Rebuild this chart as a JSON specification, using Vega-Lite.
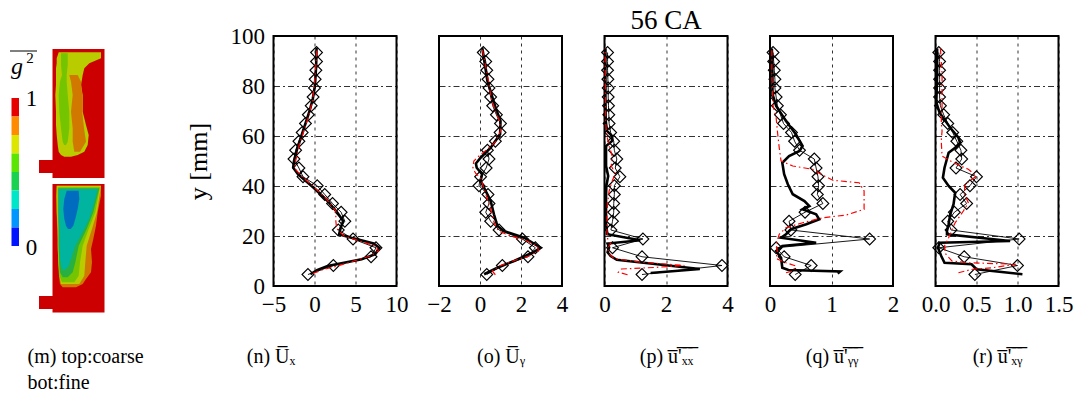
{
"$schema": "https://vega.github.io/schema/vega-lite/v6.json",
"padding": {"left": 0, "top": 6, "right": 0, "bottom": 0},
"background": "white",
"datasets": {
"prof": [
{"panel":"n","s":"exp","y":4.6,"v":-0.8},{"panel":"n","s":"exp","y":8.2,"v":2.3},{"panel":"n","s":"exp","y":11.7,"v":6.9},{"panel":"n","s":"exp","y":15.3,"v":7.5},{"panel":"n","s":"exp","y":18.8,"v":4.7},{"panel":"n","s":"exp","y":22.4,"v":2.9},{"panel":"n","s":"exp","y":25.9,"v":3.7},{"panel":"n","s":"exp","y":29.5,"v":3.25},{"panel":"n","s":"exp","y":33.0,"v":2.2},{"panel":"n","s":"exp","y":36.6,"v":1.25},{"panel":"n","s":"exp","y":40.1,"v":0.33},{"panel":"n","s":"exp","y":43.7,"v":-1.4},{"panel":"n","s":"exp","y":47.2,"v":-1.9},{"panel":"n","s":"exp","y":50.8,"v":-2.5},{"panel":"n","s":"exp","y":54.3,"v":-2.3},{"panel":"n","s":"exp","y":57.9,"v":-1.9},{"panel":"n","s":"exp","y":61.4,"v":-1.5},{"panel":"n","s":"exp","y":65.0,"v":-1.1},{"panel":"n","s":"exp","y":68.5,"v":-0.75},{"panel":"n","s":"exp","y":72.1,"v":-0.4},{"panel":"n","s":"exp","y":75.6,"v":-0.17},{"panel":"n","s":"exp","y":79.2,"v":0},{"panel":"n","s":"exp","y":82.7,"v":0.08},{"panel":"n","s":"exp","y":86.3,"v":0.17},{"panel":"n","s":"exp","y":89.8,"v":0.25},{"panel":"n","s":"exp","y":93.4,"v":0.25},
{"panel":"n","s":"fine","y":4.7,"v":-0.5},{"panel":"n","s":"fine","y":6.3,"v":0.3},{"panel":"n","s":"fine","y":8,"v":1.6},{"panel":"n","s":"fine","y":10.7,"v":5.75},{"panel":"n","s":"fine","y":12.7,"v":7.4},{"panel":"n","s":"fine","y":15.3,"v":7.9},{"panel":"n","s":"fine","y":17,"v":7.2},{"panel":"n","s":"fine","y":19.3,"v":4.5},{"panel":"n","s":"fine","y":20.7,"v":3.0},{"panel":"n","s":"fine","y":23.3,"v":3.2},{"panel":"n","s":"fine","y":26,"v":3.5},{"panel":"n","s":"fine","y":29.3,"v":2.8},{"panel":"n","s":"fine","y":34,"v":1.6},{"panel":"n","s":"fine","y":39.3,"v":-0.1},{"panel":"n","s":"fine","y":44.7,"v":-2.0},{"panel":"n","s":"fine","y":47.3,"v":-2.6},{"panel":"n","s":"fine","y":50,"v":-2.5},{"panel":"n","s":"fine","y":55,"v":-2.1},{"panel":"n","s":"fine","y":60,"v":-1.6},{"panel":"n","s":"fine","y":65,"v":-1.1},{"panel":"n","s":"fine","y":70,"v":-0.6},{"panel":"n","s":"fine","y":75,"v":-0.2},{"panel":"n","s":"fine","y":80,"v":0.05},{"panel":"n","s":"fine","y":88,"v":0.2},{"panel":"n","s":"fine","y":95.3,"v":0.25},
{"panel":"n","s":"coarse","y":5,"v":-0.2},{"panel":"n","s":"coarse","y":6.5,"v":1.0},{"panel":"n","s":"coarse","y":8,"v":2.8},{"panel":"n","s":"coarse","y":10,"v":4.8},{"panel":"n","s":"coarse","y":12,"v":6.8},{"panel":"n","s":"coarse","y":14,"v":7.8},{"panel":"n","s":"coarse","y":16,"v":7.5},{"panel":"n","s":"coarse","y":18,"v":5.5},{"panel":"n","s":"coarse","y":20,"v":3.6},{"panel":"n","s":"coarse","y":23,"v":2.7},{"panel":"n","s":"coarse","y":26,"v":2.6},{"panel":"n","s":"coarse","y":30,"v":2.6},{"panel":"n","s":"coarse","y":35,"v":1.4},{"panel":"n","s":"coarse","y":40,"v":-0.2},{"panel":"n","s":"coarse","y":44,"v":-1.6},{"panel":"n","s":"coarse","y":47,"v":-2.4},{"panel":"n","s":"coarse","y":50,"v":-2.3},{"panel":"n","s":"coarse","y":56,"v":-1.9},{"panel":"n","s":"coarse","y":62,"v":-1.3},{"panel":"n","s":"coarse","y":68,"v":-0.7},{"panel":"n","s":"coarse","y":75,"v":-0.2},{"panel":"n","s":"coarse","y":85,"v":0.1},{"panel":"n","s":"coarse","y":95,"v":0.3},
{"panel":"o","s":"exp","y":4.6,"v":0.33},{"panel":"o","s":"exp","y":8.2,"v":1.09},{"panel":"o","s":"exp","y":11.7,"v":2.34},{"panel":"o","s":"exp","y":15.3,"v":2.7},{"panel":"o","s":"exp","y":18.8,"v":2.07},{"panel":"o","s":"exp","y":22.4,"v":0.93},{"panel":"o","s":"exp","y":25.9,"v":0.52},{"panel":"o","s":"exp","y":29.5,"v":0.28},{"panel":"o","s":"exp","y":33.0,"v":0.44},{"panel":"o","s":"exp","y":36.6,"v":0.39},{"panel":"o","s":"exp","y":40.1,"v":-0.05},{"panel":"o","s":"exp","y":43.7,"v":0.03},{"panel":"o","s":"exp","y":47.2,"v":0.3},{"panel":"o","s":"exp","y":50.8,"v":0.44},{"panel":"o","s":"exp","y":54.3,"v":0.36},{"panel":"o","s":"exp","y":57.9,"v":0.75},{"panel":"o","s":"exp","y":61.4,"v":0.98},{"panel":"o","s":"exp","y":65.0,"v":1.0},{"panel":"o","s":"exp","y":68.5,"v":0.8},{"panel":"o","s":"exp","y":72.1,"v":0.62},{"panel":"o","s":"exp","y":75.6,"v":0.52},{"panel":"o","s":"exp","y":79.2,"v":0.44},{"panel":"o","s":"exp","y":82.7,"v":0.39},{"panel":"o","s":"exp","y":86.3,"v":0.33},{"panel":"o","s":"exp","y":89.8,"v":0.28},{"panel":"o","s":"exp","y":93.4,"v":0.16},
{"panel":"o","s":"fine","y":4.7,"v":0.2},{"panel":"o","s":"fine","y":7.3,"v":0.85},{"panel":"o","s":"fine","y":10,"v":1.66},{"panel":"o","s":"fine","y":13.3,"v":2.55},{"panel":"o","s":"fine","y":15.3,"v":2.96},{"panel":"o","s":"fine","y":19.3,"v":2.15},{"panel":"o","s":"fine","y":22,"v":1.17},{"panel":"o","s":"fine","y":24,"v":0.85},{"panel":"o","s":"fine","y":28.7,"v":0.68},{"panel":"o","s":"fine","y":34,"v":0.52},{"panel":"o","s":"fine","y":39.3,"v":0.2},{"panel":"o","s":"fine","y":42,"v":0.03},{"panel":"o","s":"fine","y":44.7,"v":0.1},{"panel":"o","s":"fine","y":47.3,"v":-0.16},{"panel":"o","s":"fine","y":49,"v":-0.2},{"panel":"o","s":"fine","y":51.3,"v":0.03},{"panel":"o","s":"fine","y":55.3,"v":0.52},{"panel":"o","s":"fine","y":60.7,"v":0.98},{"panel":"o","s":"fine","y":66,"v":1.0},{"panel":"o","s":"fine","y":71.3,"v":0.76},{"panel":"o","s":"fine","y":82,"v":0.36},{"panel":"o","s":"fine","y":95.3,"v":0.11},
{"panel":"o","s":"coarse","y":4.5,"v":0.75},{"panel":"o","s":"coarse","y":6,"v":0.6},{"panel":"o","s":"coarse","y":8,"v":0.95},{"panel":"o","s":"coarse","y":10,"v":1.6},{"panel":"o","s":"coarse","y":12,"v":2.4},{"panel":"o","s":"coarse","y":14,"v":2.85},{"panel":"o","s":"coarse","y":16,"v":2.8},{"panel":"o","s":"coarse","y":18,"v":2.3},{"panel":"o","s":"coarse","y":20,"v":1.5},{"panel":"o","s":"coarse","y":22,"v":0.9},{"panel":"o","s":"coarse","y":25,"v":0.7},{"panel":"o","s":"coarse","y":30,"v":0.55},{"panel":"o","s":"coarse","y":35,"v":0.35},{"panel":"o","s":"coarse","y":40,"v":0.15},{"panel":"o","s":"coarse","y":43,"v":0.05},{"panel":"o","s":"coarse","y":45,"v":-0.2},{"panel":"o","s":"coarse","y":47,"v":-0.35},{"panel":"o","s":"coarse","y":50,"v":-0.3},{"panel":"o","s":"coarse","y":52,"v":-0.05},{"panel":"o","s":"coarse","y":55,"v":0.4},{"panel":"o","s":"coarse","y":58,"v":0.8},{"panel":"o","s":"coarse","y":62,"v":1.0},{"panel":"o","s":"coarse","y":66,"v":0.95},{"panel":"o","s":"coarse","y":70,"v":0.75},{"panel":"o","s":"coarse","y":75,"v":0.55},{"panel":"o","s":"coarse","y":85,"v":0.35},{"panel":"o","s":"coarse","y":95,"v":0.1},
{"panel":"p","s":"exp","y":4.6,"v":1.22},{"panel":"p","s":"exp","y":8.2,"v":3.82},{"panel":"p","s":"exp","y":11.7,"v":1.22},{"panel":"p","s":"exp","y":15.3,"v":0.26},{"panel":"p","s":"exp","y":18.8,"v":1.25},{"panel":"p","s":"exp","y":22.4,"v":0.21},{"panel":"p","s":"exp","y":25.9,"v":0.26},{"panel":"p","s":"exp","y":29.5,"v":0.3},{"panel":"p","s":"exp","y":33.0,"v":0.3},{"panel":"p","s":"exp","y":36.6,"v":0.32},{"panel":"p","s":"exp","y":40.1,"v":0.32},{"panel":"p","s":"exp","y":43.7,"v":0.5},{"panel":"p","s":"exp","y":47.2,"v":0.35},{"panel":"p","s":"exp","y":50.8,"v":0.4},{"panel":"p","s":"exp","y":54.3,"v":0.32},{"panel":"p","s":"exp","y":57.9,"v":0.3},{"panel":"p","s":"exp","y":61.4,"v":0.2},{"panel":"p","s":"exp","y":65.0,"v":0.15},{"panel":"p","s":"exp","y":68.5,"v":0.14},{"panel":"p","s":"exp","y":72.1,"v":0.13},{"panel":"p","s":"exp","y":75.6,"v":0.12},{"panel":"p","s":"exp","y":79.2,"v":0.12},{"panel":"p","s":"exp","y":82.7,"v":0.11},{"panel":"p","s":"exp","y":86.3,"v":0.1},{"panel":"p","s":"exp","y":89.8,"v":0.1},{"panel":"p","s":"exp","y":93.4,"v":0.1},
{"panel":"p","s":"fine","y":5.2,"v":1.5},{"panel":"p","s":"fine","y":6.8,"v":3.1},{"panel":"p","s":"fine","y":10.5,"v":0.4},{"panel":"p","s":"fine","y":12,"v":0.2},{"panel":"p","s":"fine","y":13.5,"v":0.1},{"panel":"p","s":"fine","y":15.5,"v":0.15},{"panel":"p","s":"fine","y":17,"v":0.1},{"panel":"p","s":"fine","y":18.3,"v":1.16},{"panel":"p","s":"fine","y":20.7,"v":0.09},{"panel":"p","s":"fine","y":25,"v":0.05},{"panel":"p","s":"fine","y":30,"v":0.05},{"panel":"p","s":"fine","y":36,"v":0.05},{"panel":"p","s":"fine","y":40,"v":0.06},{"panel":"p","s":"fine","y":44,"v":0.12},{"panel":"p","s":"fine","y":48,"v":0.05},{"panel":"p","s":"fine","y":52,"v":0.05},{"panel":"p","s":"fine","y":56,"v":0.05},{"panel":"p","s":"fine","y":58,"v":0.25},{"panel":"p","s":"fine","y":60,"v":0.25},{"panel":"p","s":"fine","y":62,"v":0.08},{"panel":"p","s":"fine","y":66,"v":0.04},{"panel":"p","s":"fine","y":75,"v":0.03},{"panel":"p","s":"fine","y":85,"v":0.03},{"panel":"p","s":"fine","y":95,"v":0.03},
{"panel":"p","s":"coarse","y":4.5,"v":0.75},{"panel":"p","s":"coarse","y":5.5,"v":0.45},{"panel":"p","s":"coarse","y":6.8,"v":0.55},{"panel":"p","s":"coarse","y":7.4,"v":1.6},{"panel":"p","s":"coarse","y":8.2,"v":2.6},{"panel":"p","s":"coarse","y":9.5,"v":1.2},{"panel":"p","s":"coarse","y":11,"v":0.3},{"panel":"p","s":"coarse","y":13,"v":0.15},{"panel":"p","s":"coarse","y":15,"v":0.1},{"panel":"p","s":"coarse","y":17,"v":0.2},{"panel":"p","s":"coarse","y":19,"v":0.1},{"panel":"p","s":"coarse","y":22,"v":0.08},{"panel":"p","s":"coarse","y":27,"v":0.08},{"panel":"p","s":"coarse","y":33,"v":0.1},{"panel":"p","s":"coarse","y":38,"v":0.15},{"panel":"p","s":"coarse","y":42,"v":0.25},{"panel":"p","s":"coarse","y":45,"v":0.35},{"panel":"p","s":"coarse","y":48,"v":0.22},{"panel":"p","s":"coarse","y":52,"v":0.25},{"panel":"p","s":"coarse","y":56,"v":0.15},{"panel":"p","s":"coarse","y":60,"v":0.08},{"panel":"p","s":"coarse","y":65,"v":0.04},{"panel":"p","s":"coarse","y":80,"v":0.03},{"panel":"p","s":"coarse","y":95,"v":0.02},
{"panel":"q","s":"exp","y":4.6,"v":0.41},{"panel":"q","s":"exp","y":8.2,"v":0.67},{"panel":"q","s":"exp","y":11.7,"v":0.23},{"panel":"q","s":"exp","y":15.3,"v":0.1},{"panel":"q","s":"exp","y":18.8,"v":1.62},{"panel":"q","s":"exp","y":22.4,"v":0.34},{"panel":"q","s":"exp","y":25.9,"v":0.31},{"panel":"q","s":"exp","y":29.5,"v":0.57},{"panel":"q","s":"exp","y":33.0,"v":0.86},{"panel":"q","s":"exp","y":36.6,"v":0.77},{"panel":"q","s":"exp","y":40.1,"v":0.79},{"panel":"q","s":"exp","y":43.7,"v":0.78},{"panel":"q","s":"exp","y":47.2,"v":0.75},{"panel":"q","s":"exp","y":50.8,"v":0.72},{"panel":"q","s":"exp","y":54.3,"v":0.48},{"panel":"q","s":"exp","y":57.9,"v":0.4},{"panel":"q","s":"exp","y":61.4,"v":0.35},{"panel":"q","s":"exp","y":65.0,"v":0.22},{"panel":"q","s":"exp","y":68.5,"v":0.17},{"panel":"q","s":"exp","y":72.1,"v":0.12},{"panel":"q","s":"exp","y":75.6,"v":0.1},{"panel":"q","s":"exp","y":79.2,"v":0.08},{"panel":"q","s":"exp","y":82.7,"v":0.08},{"panel":"q","s":"exp","y":86.3,"v":0.07},{"panel":"q","s":"exp","y":89.8,"v":0.06},{"panel":"q","s":"exp","y":93.4,"v":0.05},
{"panel":"q","s":"fine","y":5.0,"v":1.1},{"panel":"q","s":"fine","y":5.8,"v":1.14},{"panel":"q","s":"fine","y":6.4,"v":0.3},{"panel":"q","s":"fine","y":7.3,"v":0.2},{"panel":"q","s":"fine","y":11.3,"v":0.18},{"panel":"q","s":"fine","y":14,"v":0.1},{"panel":"q","s":"fine","y":16,"v":0.2},{"panel":"q","s":"fine","y":17.3,"v":0.75},{"panel":"q","s":"fine","y":19.3,"v":0.18},{"panel":"q","s":"fine","y":20.7,"v":0.26},{"panel":"q","s":"fine","y":22.7,"v":0.34},{"panel":"q","s":"fine","y":24.7,"v":0.59},{"panel":"q","s":"fine","y":26.7,"v":0.8},{"panel":"q","s":"fine","y":28.7,"v":0.75},{"panel":"q","s":"fine","y":30.7,"v":0.53},{"panel":"q","s":"fine","y":32,"v":0.64},{"panel":"q","s":"fine","y":34,"v":0.56},{"panel":"q","s":"fine","y":36.7,"v":0.37},{"panel":"q","s":"fine","y":40.7,"v":0.29},{"panel":"q","s":"fine","y":44.7,"v":0.23},{"panel":"q","s":"fine","y":49.3,"v":0.2},{"panel":"q","s":"fine","y":52,"v":0.31},{"panel":"q","s":"fine","y":54,"v":0.48},{"panel":"q","s":"fine","y":56,"v":0.53},{"panel":"q","s":"fine","y":60.7,"v":0.42},{"panel":"q","s":"fine","y":66,"v":0.26},{"panel":"q","s":"fine","y":72,"v":0.1},{"panel":"q","s":"fine","y":76.7,"v":0.04},{"panel":"q","s":"fine","y":85,"v":0.04},{"panel":"q","s":"fine","y":95,"v":0.03},
{"panel":"q","s":"coarse","y":5.3,"v":0.26},{"panel":"q","s":"coarse","y":6,"v":0.37},{"panel":"q","s":"coarse","y":8,"v":0.42},{"panel":"q","s":"coarse","y":9.3,"v":0.26},{"panel":"q","s":"coarse","y":11,"v":0.1},{"panel":"q","s":"coarse","y":14,"v":0.12},{"panel":"q","s":"coarse","y":16.7,"v":0.1},{"panel":"q","s":"coarse","y":20.7,"v":0.15},{"panel":"q","s":"coarse","y":23.3,"v":0.26},{"panel":"q","s":"coarse","y":25.3,"v":0.53},{"panel":"q","s":"coarse","y":27.3,"v":0.86},{"panel":"q","s":"coarse","y":28.4,"v":1.24},{"panel":"q","s":"coarse","y":30.7,"v":1.53},{"panel":"q","s":"coarse","y":38,"v":1.53},{"panel":"q","s":"coarse","y":41.3,"v":1.45},{"panel":"q","s":"coarse","y":42.3,"v":1.02},{"panel":"q","s":"coarse","y":44.7,"v":0.83},{"panel":"q","s":"coarse","y":46.7,"v":0.69},{"panel":"q","s":"coarse","y":48,"v":0.37},{"panel":"q","s":"coarse","y":50,"v":0.18},{"panel":"q","s":"coarse","y":55.3,"v":0.15},{"panel":"q","s":"coarse","y":62,"v":0.12},{"panel":"q","s":"coarse","y":67.3,"v":0.1},{"panel":"q","s":"coarse","y":72,"v":0.05},{"panel":"q","s":"coarse","y":85,"v":0.03},{"panel":"q","s":"coarse","y":95,"v":0.03},
{"panel":"r","s":"exp","y":4.6,"v":0.48},{"panel":"r","s":"exp","y":8.2,"v":1.0},{"panel":"r","s":"exp","y":11.7,"v":0.35},{"panel":"r","s":"exp","y":15.3,"v":0.04},{"panel":"r","s":"exp","y":18.8,"v":1.02},{"panel":"r","s":"exp","y":22.4,"v":0.19},{"panel":"r","s":"exp","y":25.9,"v":0.15},{"panel":"r","s":"exp","y":29.5,"v":0.23},{"panel":"r","s":"exp","y":33.0,"v":0.38},{"panel":"r","s":"exp","y":36.6,"v":0.3},{"panel":"r","s":"exp","y":40.1,"v":0.42},{"panel":"r","s":"exp","y":43.7,"v":0.5},{"panel":"r","s":"exp","y":47.2,"v":0.25},{"panel":"r","s":"exp","y":50.8,"v":0.32},{"panel":"r","s":"exp","y":54.3,"v":0.31},{"panel":"r","s":"exp","y":57.9,"v":0.26},{"panel":"r","s":"exp","y":61.4,"v":0.21},{"panel":"r","s":"exp","y":65.0,"v":0.15},{"panel":"r","s":"exp","y":68.5,"v":0.1},{"panel":"r","s":"exp","y":72.1,"v":0.06},{"panel":"r","s":"exp","y":75.6,"v":0.05},{"panel":"r","s":"exp","y":79.2,"v":0.05},{"panel":"r","s":"exp","y":82.7,"v":0.05},{"panel":"r","s":"exp","y":86.3,"v":0.05},{"panel":"r","s":"exp","y":89.8,"v":0.05},{"panel":"r","s":"exp","y":93.4,"v":0.04},
{"panel":"r","s":"fine","y":4.7,"v":1.06},{"panel":"r","s":"fine","y":6.7,"v":0.5},{"panel":"r","s":"fine","y":8.7,"v":0.44},{"panel":"r","s":"fine","y":9.3,"v":0.11},{"panel":"r","s":"fine","y":12,"v":0.07},{"panel":"r","s":"fine","y":15.3,"v":0.03},{"panel":"r","s":"fine","y":17.3,"v":0.05},{"panel":"r","s":"fine","y":18,"v":0.91},{"panel":"r","s":"fine","y":20.7,"v":0.14},{"panel":"r","s":"fine","y":22,"v":0.14},{"panel":"r","s":"fine","y":24.7,"v":0.16},{"panel":"r","s":"fine","y":28.7,"v":0.18},{"panel":"r","s":"fine","y":32.7,"v":0.22},{"panel":"r","s":"fine","y":37.3,"v":0.24},{"panel":"r","s":"fine","y":40,"v":0.16},{"panel":"r","s":"fine","y":43.3,"v":0.09},{"panel":"r","s":"fine","y":47.3,"v":0.11},{"panel":"r","s":"fine","y":53.3,"v":0.16},{"panel":"r","s":"fine","y":55.3,"v":0.24},{"panel":"r","s":"fine","y":57.3,"v":0.3},{"panel":"r","s":"fine","y":59.3,"v":0.28},{"panel":"r","s":"fine","y":63.3,"v":0.18},{"panel":"r","s":"fine","y":69.3,"v":0.05},{"panel":"r","s":"fine","y":73.3,"v":0.01},{"panel":"r","s":"fine","y":85,"v":0.02},{"panel":"r","s":"fine","y":95,"v":0.02},
{"panel":"r","s":"coarse","y":5.3,"v":0.28},{"panel":"r","s":"coarse","y":6.7,"v":0.45},{"panel":"r","s":"coarse","y":7.3,"v":0.69},{"panel":"r","s":"coarse","y":8.7,"v":0.98},{"panel":"r","s":"coarse","y":9.3,"v":0.4},{"panel":"r","s":"coarse","y":10,"v":0.2},{"panel":"r","s":"coarse","y":13,"v":0.12},{"panel":"r","s":"coarse","y":16,"v":0.11},{"panel":"r","s":"coarse","y":19.3,"v":0.16},{"panel":"r","s":"coarse","y":23.3,"v":0.21},{"panel":"r","s":"coarse","y":25.3,"v":0.24},{"panel":"r","s":"coarse","y":30,"v":0.34},{"panel":"r","s":"coarse","y":33.3,"v":0.4},{"panel":"r","s":"coarse","y":37,"v":0.35},{"panel":"r","s":"coarse","y":40.7,"v":0.36},{"panel":"r","s":"coarse","y":44,"v":0.5},{"panel":"r","s":"coarse","y":46.7,"v":0.4},{"panel":"r","s":"coarse","y":49.3,"v":0.22},{"panel":"r","s":"coarse","y":52,"v":0.08},{"panel":"r","s":"coarse","y":58,"v":0.07},{"panel":"r","s":"coarse","y":62,"v":0.08},{"panel":"r","s":"coarse","y":65.3,"v":0.07},{"panel":"r","s":"coarse","y":72,"v":0.08},{"panel":"r","s":"coarse","y":85,"v":0.08},{"panel":"r","s":"coarse","y":95,"v":0.06}
],
"blocks": [
{"x":52.5,"x2":104.5,"y":48,"y2":177},
{"x":39,"x2":53,"y":159,"y2":172},
{"x":52.5,"x2":104.5,"y":183,"y2":311.5},
{"x":39,"x2":53,"y":295,"y2":308}
],
"blobs": [
{"reg":"a","lv":"yellow","y":51.3,"x":58.7,"x2":101},{"reg":"a","lv":"yellow","y":57.3,"x":56.7,"x2":101},{"reg":"a","lv":"yellow","y":62.3,"x":56.7,"x2":89.3},{"reg":"a","lv":"yellow","y":67.3,"x":56,"x2":84.3},{"reg":"a","lv":"yellow","y":74,"x":56,"x2":82.7},{"reg":"a","lv":"yellow","y":84,"x":56,"x2":81},{"reg":"a","lv":"yellow","y":94,"x":55.3,"x2":82.7},{"reg":"a","lv":"yellow","y":110.7,"x":56,"x2":82.7},{"reg":"a","lv":"yellow","y":124,"x":56,"x2":86},{"reg":"a","lv":"yellow","y":134,"x":56.7,"x2":88.7},{"reg":"a","lv":"yellow","y":144,"x":57.7,"x2":87.7},{"reg":"a","lv":"yellow","y":150.7,"x":58.7,"x2":84.3},{"reg":"a","lv":"yellow","y":154,"x":61,"x2":77.7},{"reg":"a","lv":"yellow","y":155.7,"x":64.3,"x2":71},
{"reg":"b","lv":"orange","y":74,"x":69.3,"x2":77.7},{"reg":"b","lv":"orange","y":80.7,"x":71,"x2":81},{"reg":"b","lv":"orange","y":94,"x":72.7,"x2":82.2},{"reg":"b","lv":"orange","y":110.7,"x":71,"x2":82.2},{"reg":"b","lv":"orange","y":127.3,"x":72.7,"x2":84},{"reg":"b","lv":"orange","y":140.7,"x":72.7,"x2":86},{"reg":"b","lv":"orange","y":150.7,"x":74.3,"x2":80},
{"reg":"c","lv":"lime","y":52.3,"x":61,"x2":67.7},{"reg":"c","lv":"lime","y":64,"x":61,"x2":67.7},{"reg":"c","lv":"lime","y":74,"x":62,"x2":66.7},{"reg":"c","lv":"lime","y":80.7,"x":60,"x2":66.7},{"reg":"c","lv":"lime","y":94,"x":58.7,"x2":67.7},{"reg":"c","lv":"lime","y":110.7,"x":59.3,"x2":69.3},{"reg":"c","lv":"lime","y":127.3,"x":61,"x2":69.3},{"reg":"c","lv":"lime","y":140.7,"x":62.7,"x2":67.7},{"reg":"c","lv":"lime","y":144,"x":64.3,"x2":66},
{"reg":"d","lv":"orange","y":184.7,"x":56.7,"x2":101},{"reg":"d","lv":"orange","y":194.7,"x":56,"x2":101},{"reg":"d","lv":"orange","y":211.3,"x":56.7,"x2":97.7},{"reg":"d","lv":"orange","y":224.7,"x":57,"x2":96},{"reg":"d","lv":"orange","y":238,"x":57.7,"x2":93.3},{"reg":"d","lv":"orange","y":248,"x":57.7,"x2":91},{"reg":"d","lv":"orange","y":261.3,"x":58.3,"x2":92},{"reg":"d","lv":"orange","y":271.3,"x":58.7,"x2":91},{"reg":"d","lv":"orange","y":278,"x":59.3,"x2":86},{"reg":"d","lv":"orange","y":283,"x":60,"x2":82.7},{"reg":"d","lv":"orange","y":286.3,"x":62.7,"x2":76},
{"reg":"e","lv":"yellow","y":184.7,"x":56.7,"x2":101},{"reg":"e","lv":"yellow","y":211.3,"x":56.7,"x2":97},{"reg":"e","lv":"yellow","y":228,"x":57.7,"x2":92},{"reg":"e","lv":"yellow","y":244.7,"x":57.7,"x2":86.7},{"reg":"e","lv":"yellow","y":261.3,"x":58.3,"x2":85.3},{"reg":"e","lv":"yellow","y":274.7,"x":59.3,"x2":84.3},{"reg":"e","lv":"yellow","y":283,"x":61,"x2":79.3},
{"reg":"f","lv":"lime","y":186.3,"x":57.7,"x2":100},{"reg":"f","lv":"lime","y":211.3,"x":57.7,"x2":95.3},{"reg":"f","lv":"lime","y":228,"x":58.3,"x2":88.7},{"reg":"f","lv":"lime","y":244.7,"x":58.3,"x2":82.7},{"reg":"f","lv":"lime","y":261.3,"x":58.7,"x2":80},{"reg":"f","lv":"lime","y":274.7,"x":59.3,"x2":78.7},{"reg":"f","lv":"lime","y":281.3,"x":62,"x2":74.3},
{"reg":"g","lv":"green","y":187.3,"x":58.3,"x2":99.3},{"reg":"g","lv":"green","y":211.3,"x":58.3,"x2":93.3},{"reg":"g","lv":"green","y":228,"x":58.7,"x2":86.7},{"reg":"g","lv":"green","y":244.7,"x":58.7,"x2":78.7},{"reg":"g","lv":"green","y":261.3,"x":59.3,"x2":75.3},{"reg":"g","lv":"green","y":271.3,"x":60,"x2":72.7},{"reg":"g","lv":"green","y":276.3,"x":62.7,"x2":67.7},
{"reg":"h","lv":"teal","y":188,"x":58.7,"x2":97.7},{"reg":"h","lv":"teal","y":204.7,"x":58.7,"x2":93.3},{"reg":"h","lv":"teal","y":218,"x":58.7,"x2":89.3},{"reg":"h","lv":"teal","y":231.3,"x":59.3,"x2":82.7},{"reg":"h","lv":"teal","y":244.7,"x":59.3,"x2":75.3},{"reg":"h","lv":"teal","y":258,"x":60,"x2":71},{"reg":"h","lv":"teal","y":264.7,"x":61,"x2":68.7},{"reg":"h","lv":"teal","y":268.7,"x":62.7,"x2":65.3},
{"reg":"i","lv":"blue","y":189.7,"x":66.7,"x2":78.7},{"reg":"i","lv":"blue","y":198,"x":64.3,"x2":79.3},{"reg":"i","lv":"blue","y":208,"x":63.3,"x2":77.7},{"reg":"i","lv":"blue","y":218,"x":64.3,"x2":75.3},{"reg":"i","lv":"blue","y":224.7,"x":66,"x2":73.3},{"reg":"i","lv":"blue","y":228,"x":68,"x2":70.7}
],
"bar": [
{"lv":"c1","x":11.5,"x2":19,"y":97,"y2":115.5},{"lv":"c2","x":11.5,"x2":19,"y":115.5,"y2":134},{"lv":"c3","x":11.5,"x2":19,"y":134,"y2":152.5},{"lv":"c4","x":11.5,"x2":19,"y":152.5,"y2":171},{"lv":"c5","x":11.5,"x2":19,"y":171,"y2":189.5},{"lv":"c6","x":11.5,"x2":19,"y":189.5,"y2":208},{"lv":"c7","x":11.5,"x2":19,"y":208,"y2":226.5},{"lv":"c8","x":11.5,"x2":19,"y":226.5,"y2":245}
],
"mtext": [
{"t":"1","k":"n","x":31.5,"y":98},{"t":"0","k":"n","x":31.5,"y":247},{"t":"g","k":"g","x":17,"y":66},{"t":"2","k":"s","x":30,"y":57}
],
"bars2": [
{"x":10,"x2":37,"y":50}
]
},
"hconcat": [
{
"width": 231, "height": 250,
"view": {"stroke": null},
"encoding": {
"x": {"field": "x", "type": "quantitative", "stack": null, "scale": {"domain": [0, 231], "nice": false, "zero": false},
"axis": {"labels": false, "grid": false, "title": ["(m) top:coarse", "bot:fine"], "titleAnchor": "start", "titleAlign": "left", "titleX": 27, "titleY": 76, "titleBaseline": "alphabetic", "titleLineHeight": 26, "titleFontSize": 20}},
"y": {"field": "y", "type": "quantitative", "scale": {"domain": [35, 285], "reverse": true, "nice": false, "zero": false}, "axis": null}
},
"layer": [
{"data": {"name": "blocks"}, "mark": {"type": "rect", "color": "#cc0000"}, "encoding": {"x2": {"field": "x2"}, "y2": {"field": "y2"}}},
{"data": {"name": "blobs"}, "mark": {"type": "area", "orient": "horizontal", "opacity": 1, "interpolate": "linear"},
"encoding": {"x2": {"field": "x2"}, "detail": {"field": "reg"},
"color": {"field": "lv", "type": "nominal", "legend": null, "scale": {"domain": ["orange", "yellow", "lime", "green", "teal", "blue"], "range": ["#d07800", "#b8cc00", "#74c400", "#28b040", "#00b4a0", "#006cc0"]}}}},
{"data": {"name": "bar"}, "mark": {"type": "rect"}, "encoding": {"x2": {"field": "x2"}, "y2": {"field": "y2"},
"color": {"field": "lv", "type": "nominal", "legend": null, "scale": {"domain": ["c1", "c2", "c3", "c4", "c5", "c6", "c7", "c8"], "range": ["#e60000", "#ff8c00", "#dce600", "#5ae600", "#19d250", "#00e6c8", "#0096ff", "#0014ff"]}}}},
{"data": {"name": "mtext"}, "transform": [{"filter": "datum.k==='n'"}], "mark": {"type": "text", "fontSize": 23, "font": "Liberation Serif", "baseline": "middle", "align": "center", "color": "black"}, "encoding": {"text": {"field": "t"}}},
{"data": {"name": "mtext"}, "transform": [{"filter": "datum.k==='g'"}], "mark": {"type": "text", "fontSize": 24, "font": "Liberation Serif", "fontStyle": "italic", "baseline": "middle", "align": "center", "color": "black"}, "encoding": {"text": {"field": "t"}}},
{"data": {"name": "mtext"}, "transform": [{"filter": "datum.k==='s'"}], "mark": {"type": "text", "fontSize": 15, "font": "Liberation Serif", "baseline": "middle", "align": "center", "color": "black"}, "encoding": {"text": {"field": "t"}}},
{"data": {"name": "bars2"}, "mark": {"type": "rule", "color": "black", "strokeWidth": 1}, "encoding": {"x2": {"field": "x2"}}}
],
"resolve": {"scale": {"color": "independent"}}
},
{
"width": 123, "height": 250,
"data": {"name": "prof"},
"transform": [{"filter": "datum.panel==='n'"}],
"encoding": {
"x": {"field": "v", "type": "quantitative", "scale": {"domain": [-5, 10], "nice": false, "zero": false}, "axis": {"values": [-5, 0, 5, 10], "title": "(n) U\u0305\u2093", "titleX": -3, "titleY": 76, "titleBaseline": "alphabetic", "titleAlign": "center", "titleAnchor": null}},
"y": {"field": "y", "type": "quantitative", "scale": {"domain": [0, 100], "nice": false}, "axis": {"values": [0, 20, 40, 60, 80, 100], "title": "y [mm]", "titleFontSize": 26, "labelPadding": 9, "titlePadding": 19}}
},
"layer": [
{"transform": [{"filter": "datum.s==='exp'"}], "mark": {"type": "line", "color": "black", "strokeWidth": 0.9}, "encoding": {"order": {"field": "y", "type": "quantitative"}}},
{"transform": [{"filter": "datum.s==='exp'"}], "mark": {"type": "point", "shape": "diamond", "size": 140, "color": "black", "strokeWidth": 1.1, "filled": false, "opacity": 1}},
{"transform": [{"filter": "datum.s==='fine'"}], "mark": {"type": "line", "color": "black", "strokeWidth": 2.6}, "encoding": {"order": {"field": "y", "type": "quantitative"}}},
{"transform": [{"filter": "datum.s==='coarse'"}], "mark": {"type": "line", "color": "#ff0000", "strokeWidth": 1.2, "strokeDash": [6, 3, 1.5, 3]}, "encoding": {"order": {"field": "y", "type": "quantitative"}}}
]
},
{
"width": 123, "height": 250,
"data": {"name": "prof"},
"transform": [{"filter": "datum.panel==='o'"}],
"encoding": {
"x": {"field": "v", "type": "quantitative", "scale": {"domain": [-2, 4], "nice": false, "zero": false}, "axis": {"values": [-2, 0, 2, 4], "title": "(o) U\u0305\u1d67", "titleY": 76, "titleBaseline": "alphabetic"}},
"y": {"field": "y", "type": "quantitative", "scale": {"domain": [0, 100], "nice": false}, "axis": {"values": [20, 40, 60, 80], "labels": false, "title": null}}
},
"layer": [
{"transform": [{"filter": "datum.s==='exp'"}], "mark": {"type": "line", "color": "black", "strokeWidth": 0.9}, "encoding": {"order": {"field": "y", "type": "quantitative"}}},
{"transform": [{"filter": "datum.s==='exp'"}], "mark": {"type": "point", "shape": "diamond", "size": 140, "color": "black", "strokeWidth": 1.1, "filled": false, "opacity": 1}},
{"transform": [{"filter": "datum.s==='fine'"}], "mark": {"type": "line", "color": "black", "strokeWidth": 2.6}, "encoding": {"order": {"field": "y", "type": "quantitative"}}},
{"transform": [{"filter": "datum.s==='coarse'"}], "mark": {"type": "line", "color": "#ff0000", "strokeWidth": 1.2, "strokeDash": [6, 3, 1.5, 3]}, "encoding": {"order": {"field": "y", "type": "quantitative"}}}
]
},
{
"width": 123, "height": 250,
"title": {"text": "56 CA", "offset": 1},
"data": {"name": "prof"},
"transform": [{"filter": "datum.panel==='p'"}],
"encoding": {
"x": {"field": "v", "type": "quantitative", "scale": {"domain": [0, 4], "nice": false, "zero": false}, "axis": {"values": [0, 2, 4], "title": "(p) u\u0305'\u0305\u2093\u0305\u2093\u0305", "titleY": 76, "titleBaseline": "alphabetic"}},
"y": {"field": "y", "type": "quantitative", "scale": {"domain": [0, 100], "nice": false}, "axis": {"values": [20, 40, 60, 80], "labels": false, "title": null}}
},
"layer": [
{"transform": [{"filter": "datum.s==='exp'"}], "mark": {"type": "line", "color": "black", "strokeWidth": 0.9}, "encoding": {"order": {"field": "y", "type": "quantitative"}}},
{"transform": [{"filter": "datum.s==='exp'"}], "mark": {"type": "point", "shape": "diamond", "size": 140, "color": "black", "strokeWidth": 1.1, "filled": false, "opacity": 1}},
{"transform": [{"filter": "datum.s==='fine'"}], "mark": {"type": "line", "color": "black", "strokeWidth": 2.6}, "encoding": {"order": {"field": "y", "type": "quantitative"}}},
{"transform": [{"filter": "datum.s==='coarse'"}], "mark": {"type": "line", "color": "#ff0000", "strokeWidth": 1.2, "strokeDash": [6, 3, 1.5, 3]}, "encoding": {"order": {"field": "y", "type": "quantitative"}}}
]
},
{
"width": 123, "height": 250,
"data": {"name": "prof"},
"transform": [{"filter": "datum.panel==='q'"}],
"encoding": {
"x": {"field": "v", "type": "quantitative", "scale": {"domain": [0, 2], "nice": false, "zero": false}, "axis": {"values": [0, 1, 2], "labelExpr": "format(datum.value, '.0f')", "title": "(q) u\u0305'\u0305\u1d67\u0305\u1d67\u0305", "titleY": 76, "titleBaseline": "alphabetic"}},
"y": {"field": "y", "type": "quantitative", "scale": {"domain": [0, 100], "nice": false}, "axis": {"values": [20, 40, 60, 80], "labels": false, "title": null}}
},
"layer": [
{"transform": [{"filter": "datum.s==='exp'"}], "mark": {"type": "line", "color": "black", "strokeWidth": 0.9}, "encoding": {"order": {"field": "y", "type": "quantitative"}}},
{"transform": [{"filter": "datum.s==='exp'"}], "mark": {"type": "point", "shape": "diamond", "size": 140, "color": "black", "strokeWidth": 1.1, "filled": false, "opacity": 1}},
{"transform": [{"filter": "datum.s==='fine'"}], "mark": {"type": "line", "color": "black", "strokeWidth": 2.6}, "encoding": {"order": {"field": "y", "type": "quantitative"}}},
{"transform": [{"filter": "datum.s==='coarse'"}], "mark": {"type": "line", "color": "#ff0000", "strokeWidth": 1.2, "strokeDash": [6, 3, 1.5, 3]}, "encoding": {"order": {"field": "y", "type": "quantitative"}}}
]
},
{
"width": 123, "height": 250,
"data": {"name": "prof"},
"transform": [{"filter": "datum.panel==='r'"}],
"encoding": {
"x": {"field": "v", "type": "quantitative", "scale": {"domain": [0, 1.5], "nice": false, "zero": false}, "axis": {"values": [0, 0.5, 1, 1.5], "format": ".1f", "title": "(r) u\u0305'\u0305\u2093\u0305\u1d67\u0305", "titleY": 76, "titleBaseline": "alphabetic"}},
"y": {"field": "y", "type": "quantitative", "scale": {"domain": [0, 100], "nice": false}, "axis": {"values": [20, 40, 60, 80], "labels": false, "title": null}}
},
"layer": [
{"transform": [{"filter": "datum.s==='exp'"}], "mark": {"type": "line", "color": "black", "strokeWidth": 0.9}, "encoding": {"order": {"field": "y", "type": "quantitative"}}},
{"transform": [{"filter": "datum.s==='exp'"}], "mark": {"type": "point", "shape": "diamond", "size": 140, "color": "black", "strokeWidth": 1.1, "filled": false, "opacity": 1}},
{"transform": [{"filter": "datum.s==='fine'"}], "mark": {"type": "line", "color": "black", "strokeWidth": 2.6}, "encoding": {"order": {"field": "y", "type": "quantitative"}}},
{"transform": [{"filter": "datum.s==='coarse'"}], "mark": {"type": "line", "color": "#ff0000", "strokeWidth": 1.2, "strokeDash": [6, 3, 1.5, 3]}, "encoding": {"order": {"field": "y", "type": "quantitative"}}}
]
}
],
"spacing": 42.5,
"bounds": "flush",
"config": {
"font": "Liberation Serif",
"view": {"stroke": "black", "strokeWidth": 2},
"axis": {"labelFont": "Liberation Serif", "titleFont": "Liberation Serif", "labelColor": "black", "titleColor": "black", "titleFontWeight": "normal", "domain": false, "ticks": false, "labelFontSize": 23, "titleFontSize": 20, "gridColor": "black", "gridOpacity": 0.8, "gridWidth": 1},
"axisX": {"gridDash": [3, 4], "labelPadding": 7, "labelFlush": false},
"axisY": {"gridDash": [6, 3, 2, 3]},
"title": {"font": "Liberation Serif", "fontSize": 27, "fontWeight": "normal", "color": "black"}
}
}
